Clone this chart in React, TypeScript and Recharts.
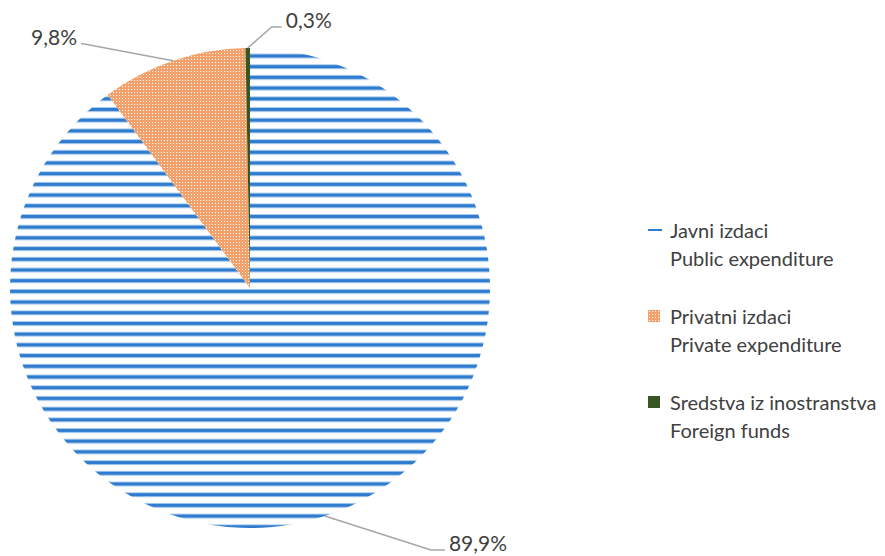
import { PieChart, Pie, Cell, Legend } from "recharts";

const NAMES_SR = ["Javni izdaci", "Privatni izdaci", "Sredstva iz inostranstva"];
const NAMES_EN = ["Public expenditure", "Private expenditure", "Foreign funds"];
const SHARES = [89.9, 9.8, 0.3];

const data = SHARES.map((value, i) => ({
  name: NAMES_SR[i],
  en: NAMES_EN[i],
  value,
}));

const FILLS = ["url(#stripes)", "url(#checks)", "#375623"];
const TEXT = "#404040";
const FONT = "Lato, 'Open Sans', sans-serif";

// leader line elbow / end offsets from the slice edge, per slice
const LEADERS = [
  { elbow: [106, 34], end: [120, 34], anchor: "start" },
  { elbow: [-90, -17], end: [-92, -17], anchor: "end" },
  { elbow: [24, -21], end: [34, -21], anchor: "start" },
];

const RADIAN = Math.PI / 180;

function renderLabel(props: any) {
  const { cx, cy, midAngle, outerRadius, index, value } = props;
  const sx = cx + outerRadius * Math.cos(-midAngle * RADIAN);
  const sy = cy + outerRadius * Math.sin(-midAngle * RADIAN);
  const l = LEADERS[index];
  const ex = sx + l.end[0];
  const ey = sy + l.end[1];
  const tx = l.anchor === "start" ? ex + 4 : ex - 4;
  return (
    <g>
      <polyline
        points={`${sx},${sy} ${sx + l.elbow[0]},${sy + l.elbow[1]} ${ex},${ey}`}
        fill="none"
        stroke="#A6A6A6"
        strokeWidth={1.5}
      />
      <text
        x={tx}
        y={ey + 1}
        textAnchor={l.anchor}
        fill={TEXT}
        fontSize={21}
        fontFamily={FONT}
      >
        {value.toFixed(1).replace(".", ",")}%
      </text>
    </g>
  );
}

function LegendContent() {
  return (
    <div style={{ fontFamily: FONT, fontSize: 20, color: TEXT, lineHeight: "28px" }}>
      {data.map((d, i) => (
        <div key={d.name} style={{ marginBottom: 30 }}>
          <div style={{ display: "flex", alignItems: "center" }}>
            <svg width={20} height={14} style={{ marginRight: 6 }}>
              {i === 0 ? (
                <rect x={4} y={6} width={14} height={2} fill="#2E7BCF" />
              ) : (
                <rect x={4} y={1} width={12} height={12} fill={FILLS[i]} />
              )}
            </svg>
            <span>{d.name}</span>
          </div>
          <div style={{ paddingLeft: 26 }}>{d.en}</div>
        </div>
      ))}
    </div>
  );
}

export default function App() {
  return (
    <div style={{ position: "absolute", left: 0, top: 0, background: "#fff" }}>
      <PieChart width={885} height={556} margin={{ top: 0, right: 0, bottom: 0, left: 0 }}>
        <defs>
          <pattern id="stripes" patternUnits="userSpaceOnUse" width={8} height={10.7}>
            <rect width={8} height={10.7} fill="#fff" />
            <rect y={0} width={8} height={5} fill="#A9CBEC" />
            <rect y={1} width={8} height={3} fill="#2E7BCF" />
          </pattern>
          <pattern id="checks" patternUnits="userSpaceOnUse" width={3} height={3}>
            <rect width={3} height={3} fill="#F4A06A" />
            <rect x={2} y={2} width={1} height={1} fill="#FFFFFF" />
          </pattern>
        </defs>
        <Pie
          data={data}
          dataKey="value"
          nameKey="name"
          cx={250}
          cy={288}
          outerRadius={240}
          startAngle={90}
          endAngle={-270}
          stroke="none"
          label={renderLabel}
          labelLine={false}
          isAnimationActive={false}
        >
          {data.map((d, i) => (
            <Cell key={d.name} fill={FILLS[i]} />
          ))}
        </Pie>
        <Legend
          content={<LegendContent />}
          layout="vertical"
          align="right"
          verticalAlign="middle"
          wrapperStyle={{ left: 644, top: 216, width: 241 }}
        />
      </PieChart>
    </div>
  );
}
